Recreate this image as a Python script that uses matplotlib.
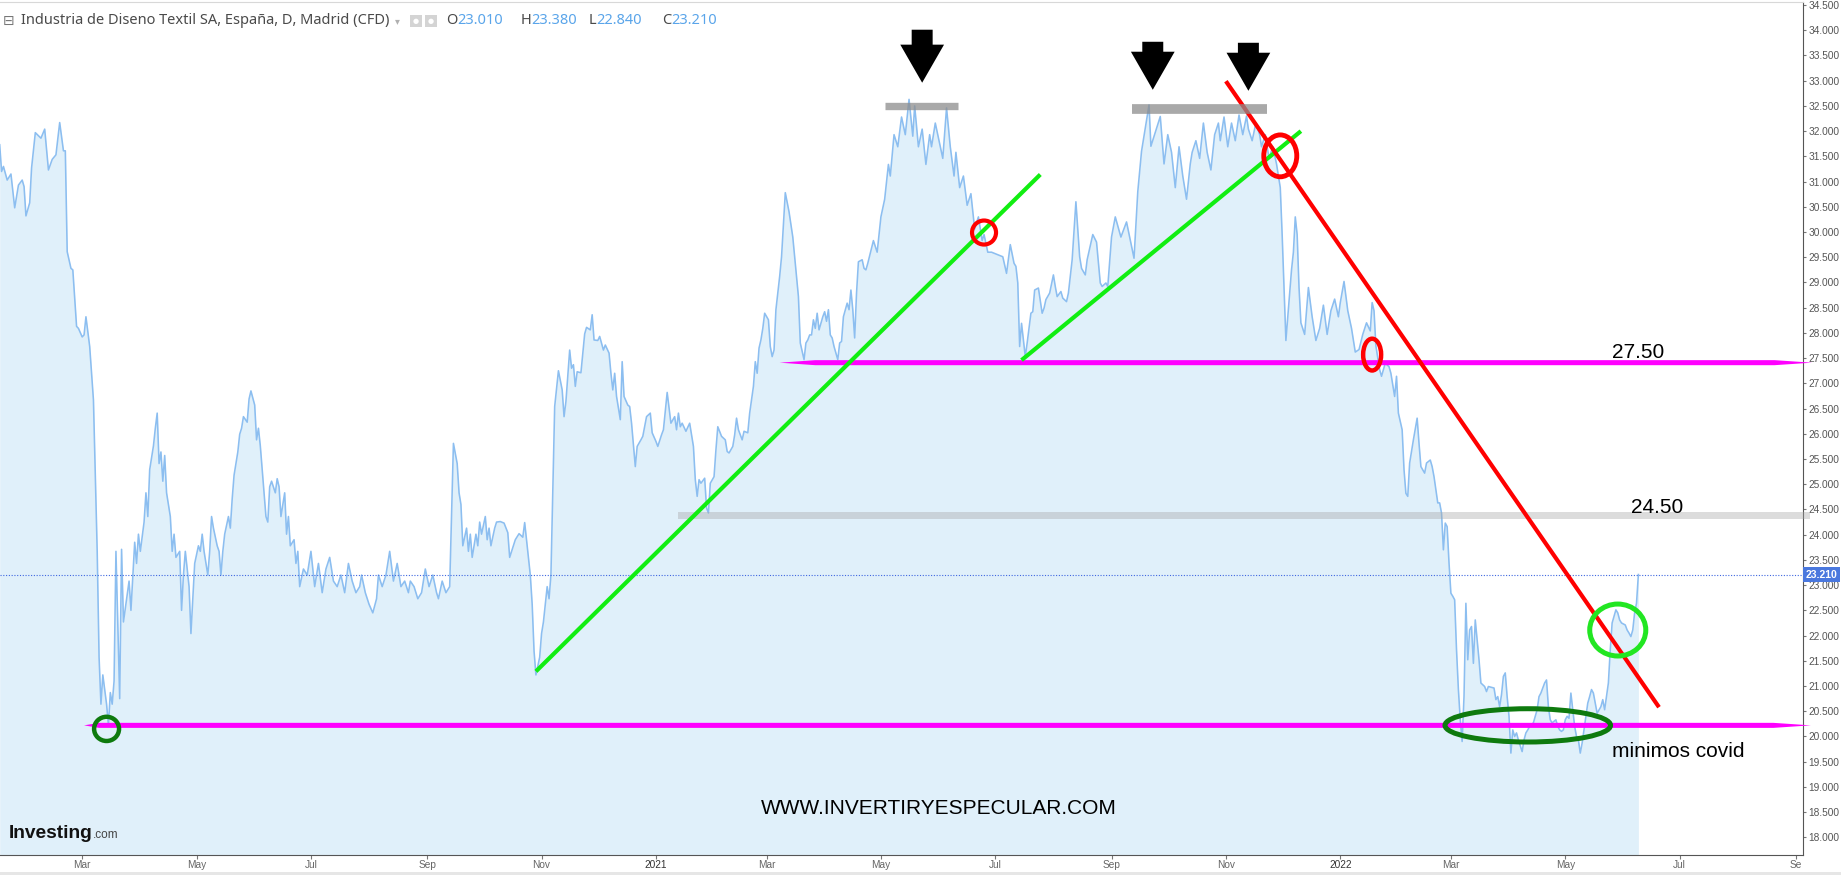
import matplotlib
matplotlib.use('Agg')
import matplotlib.pyplot as plt
import matplotlib.dates as mdates
from matplotlib.patches import Ellipse, Rectangle
import numpy as np
import pandas as pd

plt.rcParams['font.family'] = ['Liberation Sans', 'DejaVu Sans']

############# price data (daily close, CFD) ##################################
days_2020 = ['01-17', '01-18', '01-19', '01-21', '01-23', '01-25', '01-27', '01-29', '01-30', '01-31',
             '02-02', '02-03', '02-05', '02-08', '02-10', '02-12', '02-14', '02-16', '02-18', '02-20',
             '02-21', '02-22', '02-24', '02-25', '02-27', '02-28', '03-01', '03-02', '03-03', '03-05',
             '03-07', '03-09', '03-10', '03-11', '03-12', '03-14', '03-15', '03-16', '03-17', '03-18',
             '03-19', '03-21', '03-22', '03-23', '03-26', '03-27', '03-29', '03-30', '03-31', '04-01',
             '04-03', '04-04', '04-05', '04-06', '04-08', '04-09', '04-10', '04-11', '04-12', '04-13',
             '04-14', '04-15', '04-17', '04-18', '04-19', '04-20', '04-22', '04-23', '04-24', '04-25',
             '04-27', '04-28', '04-29', '04-30', '05-02', '05-03', '05-04', '05-05', '05-07', '05-08',
             '05-09', '05-10', '05-12', '05-13', '05-14', '05-15', '05-16', '05-18', '05-19', '05-20',
             '05-21', '05-23', '05-24', '05-25', '05-26', '05-28', '05-29', '05-30', '06-01', '06-02',
             '06-03', '06-04', '06-05', '06-07', '06-08', '06-09', '06-10', '06-12', '06-13', '06-14',
             '06-15', '06-17', '06-18', '06-19', '06-20', '06-22', '06-23', '06-24', '06-25', '06-27',
             '06-29', '07-01', '07-03', '07-05', '07-07', '07-09', '07-11', '07-13', '07-15', '07-17',
             '07-19', '07-21', '07-23', '07-25', '07-27', '07-28', '07-30', '08-01', '08-03', '08-05',
             '08-06', '08-08', '08-10', '08-12', '08-14', '08-16', '08-18', '08-20', '08-22', '08-23',
             '08-25', '08-27', '08-29', '08-31', '09-02', '09-04', '09-06', '09-07', '09-09', '09-11',
             '09-13', '09-14', '09-15', '09-17', '09-18', '09-19', '09-20', '09-22', '09-23', '09-24',
             '09-25', '09-27', '09-28', '09-29', '09-30', '10-02', '10-03', '10-04', '10-05', '10-07',
             '10-08', '10-10', '10-12', '10-14', '10-15', '10-18', '10-20', '10-22', '10-23', '10-26',
             '10-27', '10-28', '10-29', '10-31', '11-01', '11-02', '11-03', '11-04', '11-05', '11-06',
             '11-08', '11-10', '11-12', '11-13', '11-14', '11-16', '11-17', '11-18', '11-19', '11-20',
             '11-22', '11-24', '11-25', '11-27', '11-28', '11-29', '12-01', '12-02', '12-04', '12-05',
             '12-07', '12-08', '12-09', '12-10', '12-11', '12-13', '12-14', '12-15', '12-17', '12-18',
             '12-19', '12-21', '12-22', '12-24', '12-25', '12-27', '12-29', '12-30']
close_2020 = [31.73, 31.20, 31.30, 31.03, 31.15, 30.48, 30.93, 31.03, 30.90, 30.32,
              30.58, 31.27, 31.97, 31.86, 32.04, 31.23, 31.44, 31.53, 32.17, 31.61,
              31.61, 29.61, 29.28, 29.25, 28.13, 28.09, 27.92, 27.96, 28.32, 27.73,
              26.67, 23.67, 21.57, 20.64, 21.22, 20.64, 20.22, 20.87, 20.64, 21.10,
              23.67, 20.75, 23.71, 22.27, 23.08, 22.50, 23.85, 23.43, 24.01, 23.67,
              24.25, 24.83, 24.36, 25.29, 25.76, 26.11, 26.41, 25.41, 25.64, 25.06,
              25.57, 24.83, 24.36, 23.67, 24.01, 23.55, 23.67, 22.50, 23.20, 23.67,
              22.97, 22.04, 22.74, 23.43, 23.78, 23.67, 24.01, 23.67, 23.20, 23.67,
              24.36, 24.13, 23.78, 23.67, 23.20, 23.67, 24.01, 24.36, 24.13, 24.71,
              25.18, 25.64, 25.99, 26.11, 26.34, 26.23, 26.69, 26.85, 26.57, 25.88,
              26.11, 25.76, 25.29, 24.36, 24.25, 24.95, 25.06, 24.83, 25.11, 24.95,
              24.36, 24.83, 24.01, 24.36, 23.78, 23.90, 23.43, 23.67, 22.97, 23.32,
              23.20, 23.67, 22.97, 23.43, 22.85, 23.32, 23.55, 23.08, 22.97, 23.20,
              22.85, 23.43, 23.08, 22.85, 22.97, 23.20, 22.85, 22.62, 22.45, 22.73,
              23.20, 22.97, 23.20, 23.67, 23.08, 23.43, 22.97, 23.08, 22.85, 23.08,
              22.97, 22.73, 22.85, 23.32, 22.97, 23.20, 22.85, 22.73, 23.08, 22.85,
              22.97, 24.36, 25.81, 25.41, 24.83, 24.60, 23.78, 24.13, 23.67, 24.01,
              23.55, 24.01, 23.78, 24.25, 24.01, 24.36, 23.90, 24.13, 23.78, 24.13,
              24.25, 24.26, 24.23, 24.04, 23.55, 23.90, 24.02, 23.95, 24.24, 23.20,
              22.62, 21.69, 21.22, 21.57, 22.04, 22.27, 22.62, 22.97, 22.73, 23.20,
              26.54, 27.25, 26.87, 26.34, 26.64, 27.66, 27.30, 27.37, 26.94, 27.23,
              27.21, 27.98, 28.11, 28.06, 28.36, 27.86, 27.85, 27.93, 27.66, 27.76,
              27.60, 27.20, 26.87, 27.20, 26.74, 26.28, 27.43, 26.74, 26.57, 26.54,
              26.21, 25.35, 25.75, 25.88, 25.95, 26.34, 26.41, 26.02]

days_2021 = ['01-01', '01-02', '01-04', '01-05', '01-07', '01-09', '01-11', '01-12', '01-13', '01-14',
             '01-15', '01-17', '01-19', '01-21', '01-22', '01-23', '01-24', '01-25', '01-27', '01-28',
             '01-29', '01-30', '02-01', '02-02', '02-03', '02-05', '02-07', '02-08', '02-09', '02-11',
             '02-12', '02-13', '02-14', '02-16', '02-17', '02-19', '02-20', '02-22', '02-23', '02-24',
             '02-25', '02-26', '02-27', '02-28', '03-02', '03-03', '03-04', '03-05', '03-06', '03-07',
             '03-08', '03-09', '03-11', '03-13', '03-15', '03-18', '03-19', '03-21', '03-22', '03-23',
             '03-24', '03-25', '03-26', '03-27', '03-28', '03-29', '03-31', '04-01', '04-02', '04-03',
             '04-04', '04-05', '04-06', '04-08', '04-09', '04-10', '04-11', '04-13', '04-14', '04-15',
             '04-16', '04-17', '04-18', '04-19', '04-21', '04-22', '04-23', '04-24', '04-27', '04-29',
             '05-01', '05-03', '05-05', '05-06', '05-08', '05-10', '05-12', '05-14', '05-16', '05-18',
             '05-19', '05-21', '05-23', '05-25', '05-27', '05-28', '05-30', '06-01', '06-03', '06-05',
             '06-07', '06-09', '06-10', '06-12', '06-14', '06-16', '06-18', '06-20', '06-22', '06-24',
             '06-25', '06-27', '06-29', '07-05', '07-07', '07-09', '07-11', '07-12', '07-13', '07-14',
             '07-15', '07-17', '07-18', '07-20', '07-21', '07-22', '07-24', '07-26', '07-27', '07-28',
             '07-30', '08-01', '08-02', '08-03', '08-05', '08-06', '08-08', '08-09', '08-11', '08-13',
             '08-15', '08-16', '08-18', '08-19', '08-22', '08-24', '08-26', '08-27', '08-29', '08-30',
             '09-01', '09-03', '09-06', '09-09', '09-13', '09-15', '09-17', '09-21', '09-22', '09-27',
             '09-29', '10-01', '10-03', '10-05', '10-07', '10-09', '10-11', '10-13', '10-14', '10-16',
             '10-18', '10-20', '10-22', '10-24', '10-26', '10-28', '10-29', '10-31', '11-02', '11-04',
             '11-06', '11-08', '11-10', '11-12', '11-13', '11-15', '11-17', '11-19', '11-20', '11-22',
             '11-24', '11-26', '11-28', '11-30', '12-01', '12-02', '12-03', '12-04', '12-06', '12-07',
             '12-08', '12-09', '12-10', '12-11', '12-13', '12-15', '12-17', '12-19', '12-21', '12-23',
             '12-25', '12-27', '12-29', '12-31']
close_2021 = [25.85, 25.75, 25.98, 26.08, 26.82, 26.21, 26.34, 26.08, 26.41, 26.14,
              26.21, 26.05, 26.21, 25.75, 25.09, 24.76, 25.09, 25.02, 25.12, 24.53,
              24.43, 25.02, 25.15, 25.68, 26.14, 25.95, 25.88, 25.65, 25.62, 25.75,
              25.98, 26.31, 26.08, 25.88, 26.05, 26.02, 26.41, 26.94, 27.43, 27.20,
              27.70, 27.86, 28.09, 28.39, 28.26, 27.73, 27.53, 27.66, 28.46, 28.79,
              29.12, 29.51, 30.78, 30.40, 29.90, 28.72, 27.80, 27.47, 27.80, 27.86,
              27.96, 27.96, 28.26, 28.09, 28.39, 28.06, 28.32, 28.42, 28.23, 28.46,
              27.96, 27.90, 27.73, 27.47, 27.80, 27.83, 28.32, 28.59, 28.46, 28.85,
              28.46, 27.90, 28.79, 29.41, 29.45, 29.28, 29.25, 29.38, 29.83, 29.60,
              30.30, 30.65, 31.34, 31.11, 31.93, 31.69, 32.28, 31.93, 32.63, 31.90,
              32.50, 31.69, 32.04, 31.34, 31.93, 31.69, 32.16, 31.81, 31.46, 32.46,
              31.69, 31.11, 31.58, 30.88, 31.11, 30.53, 30.76, 30.06, 30.30, 29.83,
              29.95, 29.60, 29.60, 29.51, 29.18, 29.75, 29.38, 29.32, 28.99, 27.73,
              28.19, 27.53, 27.80, 28.39, 28.42, 28.85, 28.89, 28.39, 28.49, 28.66,
              28.79, 29.15, 28.92, 28.72, 28.82, 28.69, 28.62, 28.79, 29.45, 30.60,
              29.51, 29.28, 29.15, 29.45, 29.95, 29.80, 28.99, 28.92, 28.99, 28.92,
              29.90, 30.30, 29.90, 30.20, 29.48, 30.80, 31.60, 32.52, 31.70, 32.29,
              31.35, 31.93, 31.58, 30.88, 31.69, 31.11, 30.65, 31.35, 31.58, 31.81,
              31.46, 32.16, 31.58, 31.23, 31.93, 32.16, 31.81, 32.28, 31.69, 32.16,
              31.81, 32.32, 31.93, 32.30, 32.04, 31.81, 32.16, 31.93, 31.69, 31.93,
              31.46, 31.69, 31.35, 30.88, 29.95, 28.90, 27.85, 28.32, 29.25, 29.60,
              30.30, 29.95, 28.90, 28.20, 27.97, 28.90, 28.32, 27.85, 28.09, 28.55,
              27.97, 28.44, 28.67, 28.32]

days_2022 = ['01-01', '01-03', '01-05', '01-07', '01-09', '01-11', '01-13', '01-15', '01-17', '01-18',
             '01-19', '01-20', '01-21', '01-22', '01-23', '01-25', '01-27', '01-28', '01-30', '01-31',
             '02-01', '02-03', '02-04', '02-05', '02-06', '02-07', '02-09', '02-11', '02-12', '02-13',
             '02-15', '02-16', '02-18', '02-19', '02-20', '02-22', '02-23', '02-24', '02-25', '02-26',
             '02-27', '02-28', '03-01', '03-02', '03-03', '03-04', '03-05', '03-06', '03-07', '03-08',
             '03-09', '03-10', '03-11', '03-12', '03-13', '03-14', '03-15', '03-16', '03-17', '03-19',
             '03-20', '03-21', '03-24', '03-25', '03-26', '03-27', '03-28', '03-29', '03-30', '03-31',
             '04-01', '04-02', '04-03', '04-04', '04-05', '04-06', '04-08', '04-09', '04-10', '04-11',
             '04-12', '04-14', '04-15', '04-16', '04-17', '04-18', '04-20', '04-21', '04-22', '04-23',
             '04-24', '04-26', '04-27', '04-28', '04-29', '04-30', '05-01', '05-02', '05-03', '05-04',
             '05-05', '05-06', '05-07', '05-08', '05-09', '05-10', '05-11', '05-12', '05-13', '05-14',
             '05-15', '05-16', '05-18', '05-20', '05-21', '05-22', '05-23', '05-24', '05-25', '05-26',
             '05-27', '05-28', '05-29', '05-30', '05-31', '06-02', '06-03', '06-04', '06-05', '06-06',
             '06-07', '06-08', '06-09']
close_2022 = [28.60, 29.02, 28.44, 28.09, 27.62, 27.67, 27.97, 28.20, 28.04, 28.60,
              28.44, 27.74, 27.50, 27.27, 27.14, 27.40, 27.33, 27.20, 26.74, 27.14,
              26.41, 26.08, 25.29, 24.82, 24.76, 25.42, 25.88, 26.31, 25.81, 25.35,
              25.22, 25.42, 25.48, 25.35, 25.15, 24.63, 24.63, 24.43, 23.70, 24.23,
              24.16, 23.44, 22.84, 22.78, 22.71, 21.72, 20.93, 20.33, 19.90, 20.79,
              22.64, 21.52, 22.11, 22.18, 21.45, 22.31, 21.92, 21.52, 21.06, 20.99,
              20.89, 20.99, 20.96, 20.73, 20.79, 20.59, 20.83, 21.19, 21.26, 20.79,
              20.40, 19.67, 20.13, 20.00, 20.07, 19.93, 19.70, 19.93, 20.07, 20.13,
              20.20, 20.27, 20.40, 20.53, 20.79, 20.86, 21.06, 21.12, 20.59, 20.33,
              20.27, 20.33, 20.20, 20.13, 20.10, 20.13, 20.33, 20.40, 20.36, 20.86,
              20.53, 20.20, 20.00, 19.93, 19.67, 19.87, 20.13, 20.40, 20.66, 20.79,
              20.93, 20.86, 20.46, 20.59, 20.73, 20.53, 20.79, 21.06, 21.72, 22.25,
              22.38, 22.51, 22.45, 22.31, 22.25, 22.21, 22.11, 22.05, 21.98, 22.11,
              22.45, 22.64, 23.21]

############# axis labels ###############
month_ticks = ['2020-03-01', '2020-05-01', '2020-07-01', '2020-09-01', '2020-11-01', '2021-01-01',
               '2021-03-01', '2021-05-01', '2021-07-01', '2021-09-01', '2021-11-01', '2022-01-01',
               '2022-03-01', '2022-05-01', '2022-07-01', '2022-09-01']
month_labels = ['Mar', 'May', 'Jul', 'Sep', 'Nov', '2021', 'Mar', 'May', 'Jul', 'Sep', 'Nov', '2022',
                'Mar', 'May', 'Jul', 'Se']
price_ticks = np.arange(18.0, 34.51, 0.5)

ohlc_names = ['O', 'H', 'L', 'C']
ohlc_values = ['23.010', '23.380', '22.840', '23.210']
last_price = 23.21

############# build series ###############
dates = pd.to_datetime([f'2020-{d}' for d in days_2020] +
                       [f'2021-{d}' for d in days_2021] +
                       [f'2022-{d}' for d in days_2022])
close = np.array(close_2020 + close_2021 + close_2022)
x = mdates.date2num(dates)


def d2n(s):
    return mdates.date2num(pd.Timestamp(s))


x0 = d2n('2020-03-01')

############# figure ###############
W, H = 1841, 875
fig = plt.figure(figsize=(W / 100, H / 100), dpi=100)
ax = fig.add_axes([0, 20 / H, 1803 / W, 853 / H])
ax.set_xlim(x0 - 43.84, x0 + 917.8)
ax.set_ylim(17.65, 34.56)

ax.fill_between(x, close, 17.0, color='#e0f0fa', lw=0, zorder=1)
ax.plot(x, close, color='#8cbef0', lw=1.15, zorder=3)

############# axes style ###############
ax.yaxis.tick_right()
ax.set_yticks(price_ticks)
ax.set_yticklabels([f'{v:.3f}' for v in price_ticks])
ax.set_xticks([d2n(t) for t in month_ticks])
ax.set_xticklabels(month_labels)
ax.tick_params(axis='y', direction='out', length=2.5, width=0.8, color='#777777',
               labelcolor='#555555', labelsize=7.3, pad=1.5)
ax.tick_params(axis='x', direction='out', length=3, width=0.8, color='#777777',
               labelcolor='#666666', labelsize=7.3, pad=0.5)
for lab in ax.get_xticklabels():
    if lab.get_text() in ('2021', '2022'):
        lab.set_color('#333333')
ax.spines['left'].set_visible(False)
ax.spines['top'].set_color('#d8d8d8')
ax.spines['right'].set_color('#555555')
ax.spines['bottom'].set_color('#555555')

############# last price marker ###############
ax.axhline(last_price, color='#3f67e0', lw=0.8, ls=(0, (1, 1.5)), zorder=4)
ax.text(1.0015, last_price, f'{last_price:.3f}', transform=ax.get_yaxis_transform(),
        ha='left', va='center', fontsize=7.5, color='white', fontweight='bold', zorder=10,
        bbox=dict(boxstyle='square,pad=0.25', fc='#4a78de', ec='none'), clip_on=False)

############# support / resistance levels ###############


def taper_band(xa, xb, y, half, tl, tr, color):
    xs = [xa, xa + tl, xb - tr, xb, xb - tr, xa + tl]
    ys = [y, y + half, y + half, y, y - half, y - half]
    ax.fill(xs, ys, color=color, lw=0, zorder=5, clip_on=False)


ax.fill_between([d2n('2021-01-13'), x0 + 921.5], 24.305, 24.455, color='#a5a5a5',
                alpha=0.39, lw=0, zorder=4, clip_on=False)
taper_band(d2n('2021-03-08'), x0 + 922.6, 27.41, 0.05, 19, 20, '#ff00ff')
taper_band(d2n('2020-03-02'), x0 + 922.0, 20.22, 0.05, 8, 20, '#ff00ff')

############# trend lines ###############
ax.plot([d2n('2020-10-29'), d2n('2021-07-25')], [21.29, 31.14], color='#11ee11', lw=3,
        solid_capstyle='butt', zorder=6)
ax.plot([d2n('2021-07-15'), d2n('2021-12-11')], [27.46, 32.00], color='#11ee11', lw=3,
        solid_capstyle='butt', zorder=6)
ax.plot([d2n('2021-11-01'), d2n('2022-06-20')], [32.99, 20.58], color='#ff0000', lw=3,
        solid_capstyle='butt', zorder=6)

############# tops ###############
ax.plot([d2n('2021-05-03'), d2n('2021-06-11')], [32.50, 32.50], color='#8c8c8c', alpha=0.75,
        lw=5.3, solid_capstyle='butt', zorder=7)
ax.plot([d2n('2021-09-12'), d2n('2021-11-23')], [32.44, 32.44], color='#8c8c8c', alpha=0.75,
        lw=7.0, solid_capstyle='butt', zorder=7)

for tip, top_px in [(('2021-05-23', 32.96), 53), (('2021-09-23', 32.82), 48),
                    (('2021-11-13', 32.80), 48)]:
    ax.annotate('', xy=(d2n(tip[0]), tip[1]), xytext=(0, top_px * 0.72),
                textcoords='offset points', zorder=9,
                arrowprops=dict(arrowstyle='simple,head_length=27.4,head_width=31.5,tail_width=15.1',
                                fc='black', ec='none', shrinkA=0, shrinkB=0, mutation_scale=1))

############# circles ###############
circles = [(('2021-06-25', 29.99), 12.8, 0.476, '#ff0000', 3.0),
           (('2021-11-30', 31.51), 17.6, 0.83, '#ff0000', 3.5),
           (('2022-01-18', 27.57), 9.6, 0.63, '#ff0000', 3.2),
           (('2022-05-29', 22.11), 29.9, 1.03, '#22e622', 3.6),
           (('2022-04-11', 20.22), 88.3, 0.66, '#0e7a0e', 3.6),
           (('2020-03-14', 20.15), 13.3, 0.48, '#0e7a0e', 3.2)]
for (cd, cy), w, h, col, lw in circles:
    ax.add_patch(Ellipse((d2n(cd), cy), w, h, fill=False, ec=col, lw=lw, zorder=8))

############# texts ###############
ax.text(d2n('2022-06-09'), 27.51, '27.50', ha='center', va='baseline', fontsize=15, zorder=9)
ax.text(d2n('2022-06-19'), 24.43, '24.50', ha='center', va='baseline', fontsize=15, zorder=9)
ax.text(d2n('2022-06-30'), 19.60, 'minimos covid', ha='center', va='baseline', fontsize=15, zorder=9)
fig.text(938.5 / W, 1 - 808 / H, 'WWW.INVERTIRYESPECULAR.COM', ha='center', va='center',
         fontsize=15, color='black')

############# header ###############
renderer = fig.canvas.get_renderer()
ty = 1 - 21 / H
fig.text(3 / W, ty, '\u229f', fontsize=10, color='#777777', va='center', family='DejaVu Sans')
fig.text(20.7 / W, ty, 'Industria de Diseno Textil SA, España, D, Madrid (CFD)', fontsize=10.5,
         color='#4a4a4a', va='center', family='Noto Sans')
fig.text(395 / W, ty, '\u25be', fontsize=7, color='#b0b0b0', va='center', family='DejaVu Sans')
for bx in (410, 425):
    fig.patches.append(Rectangle((bx / W, 1 - 27 / H), 12 / W, 12 / H, transform=fig.transFigure,
                                 fc='#d4d4d4', ec='none'))
    fig.text((bx + 6) / W, 1 - 21 / H, '\u25cf', fontsize=5, color='white', ha='center',
             va='center', family='DejaVu Sans')
for name, val, px in zip(ohlc_names, ohlc_values, [446, 521, 589, 662]):
    t = fig.text(px / W, ty, name, fontsize=10.5, color='#4a4a4a', va='center', family='Noto Sans')
    x_end = t.get_window_extent(renderer).x1
    fig.text(x_end / W, ty, val, fontsize=10.5, color='#5aa5ea', va='center', family='Noto Sans')

logo = fig.text(9 / W, 1 - 833 / H, 'Investing', fontsize=13.8, fontweight='bold', color='#111111',
                va='center')
logo_end = logo.get_window_extent(renderer).x1
fig.text(logo_end / W, 1 - 835 / H, '.com', fontsize=8.5, color='#444444', va='center')

fig.patches.append(Rectangle((0, 0), 1, 3 / H, transform=fig.transFigure, fc='#e6e6e6', ec='none'))

fig.savefig('out.png', dpi=100)
